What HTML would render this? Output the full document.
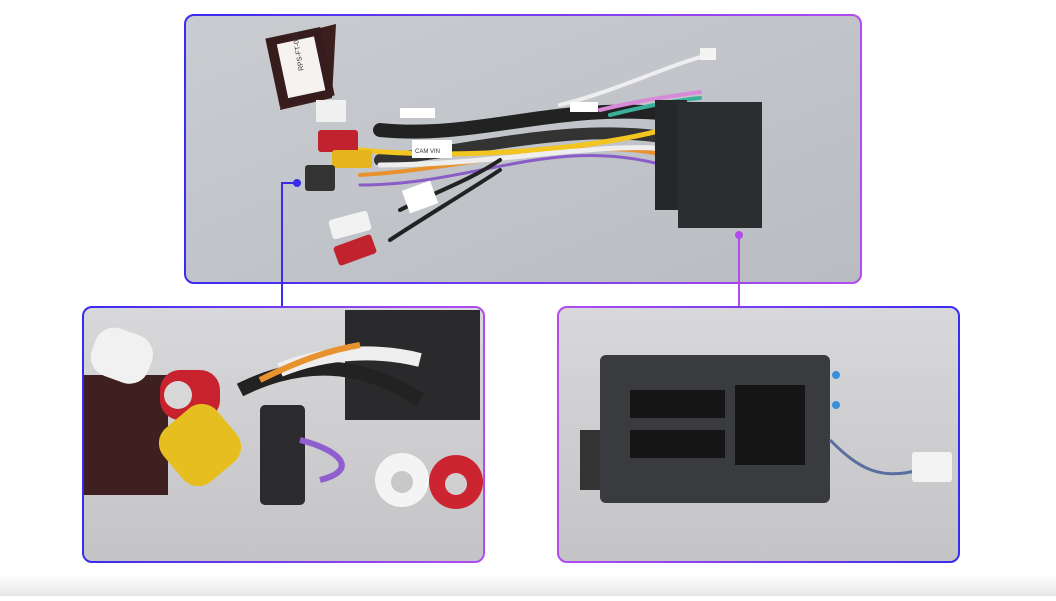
<!DOCTYPE html>
<html><head><meta charset="utf-8"><style>
body{margin:0;background:#fff;width:1056px;height:596px;overflow:hidden;font-family:"Liberation Sans",sans-serif}
</style></head><body>
<svg width="1056" height="596" viewBox="0 0 1056 596" xmlns="http://www.w3.org/2000/svg">
<defs>
<linearGradient id="bp" x1="0" x2="1" y1="0" y2="0"><stop offset="0" stop-color="#3a2bf0"/><stop offset="1" stop-color="#b24cf0"/></linearGradient>
<linearGradient id="pb" x1="0" x2="1" y1="0" y2="0"><stop offset="0" stop-color="#b24cf0"/><stop offset="1" stop-color="#3a2bf0"/></linearGradient>
<linearGradient id="bg1" x1="0" x2="1" y1="0" y2="1"><stop offset="0" stop-color="#c9ccd0"/><stop offset="1" stop-color="#b9bcc1"/></linearGradient>
<linearGradient id="bg2" x1="0" x2="0" y1="0" y2="1"><stop offset="0" stop-color="#d8d8da"/><stop offset="1" stop-color="#c4c4c6"/></linearGradient>
<linearGradient id="shade" x1="0" x2="0" y1="0" y2="1"><stop offset="0" stop-color="#fff"/><stop offset="1" stop-color="#e6e6e8"/></linearGradient>
</defs>
<rect x="0" y="575" width="1056" height="21" fill="url(#shade)"/>
<!-- top panel -->
<rect x="185" y="15" width="676" height="268" rx="9" fill="url(#bg1)" stroke="url(#bp)" stroke-width="2"/>
<!-- wires -->
<g fill="none" stroke-linecap="round">
<path d="M380 130 C480 140 560 100 680 115" stroke="#222" stroke-width="14"/>
<path d="M380 160 C480 150 580 120 680 140" stroke="#333" stroke-width="12"/>
<path d="M360 175 C460 170 600 130 680 160" stroke="#e8922f" stroke-width="4"/>
<path d="M360 150 C460 160 600 150 680 125" stroke="#f3c520" stroke-width="5"/>
<path d="M360 185 C480 185 560 130 680 170" stroke="#8a5cc8" stroke-width="3"/>
<path d="M380 165 C500 165 600 140 680 150" stroke="#eee" stroke-width="5"/>
<path d="M560 105 C620 90 680 60 710 55" stroke="#eee" stroke-width="4"/>
<path d="M600 110 C640 100 680 95 700 92" stroke="#d88ad8" stroke-width="4"/>
<path d="M610 115 C650 105 680 100 700 98" stroke="#3ab09a" stroke-width="4"/>
<path d="M400 210 C440 190 470 180 500 160" stroke="#222" stroke-width="4"/>
<path d="M390 240 C420 220 470 190 500 170" stroke="#222" stroke-width="4"/>
</g>
<rect x="700" y="48" width="16" height="12" fill="#f4f4f4"/>
<!-- module box -->
<path d="M288 36 L336 24 L332 98 L280 110 Z" fill="#3b1e1e"/>
<rect x="272" y="32" width="56" height="70" fill="#361c1c" transform="rotate(-12 300 67)"/>
<rect x="282" y="40" width="38" height="55" fill="#f5f2ef" transform="rotate(-12 300 67)"/>
<text x="296" y="70" font-size="7" fill="#333" transform="rotate(-100 300 67)">RPS-FT-002</text>
<!-- RCA plugs -->
<rect x="316" y="100" width="30" height="22" fill="#f0f0f0"/>
<rect x="318" y="130" width="40" height="22" rx="3" fill="#c0232e"/>
<rect x="332" y="150" width="40" height="18" rx="3" fill="#e4b51c"/>
<rect x="305" y="165" width="30" height="26" rx="3" fill="#333"/>
<rect x="330" y="215" width="40" height="20" rx="3" fill="#f2f2f2" transform="rotate(-15 350 225)"/>
<rect x="335" y="240" width="40" height="20" rx="3" fill="#c0232e" transform="rotate(-20 355 250)"/>
<!-- labels -->
<rect x="412" y="140" width="40" height="18" fill="#fff"/><text x="415" y="153" font-size="6" fill="#333">CAM VIN</text>
<rect x="405" y="185" width="30" height="24" fill="#fff" transform="rotate(-20 420 197)"/>
<rect x="400" y="108" width="35" height="10" fill="#fff"/>
<rect x="570" y="102" width="28" height="10" fill="#fff"/>
<!-- black connector -->
<rect x="655" y="100" width="32" height="110" fill="#262729"/>
<rect x="678" y="102" width="84" height="126" fill="#2c2d30"/>
<!-- connector lines -->
<path d="M297 183 H282 V306" stroke="#3a2bf0" stroke-width="2" fill="none"/>
<circle cx="297" cy="183" r="4" fill="#3a2bf0"/>
<path d="M739 235 V306" stroke="#b24cf0" stroke-width="2" fill="none"/>
<circle cx="739" cy="235" r="4" fill="#b24cf0"/>
<!-- bottom left panel -->
<clipPath id="c1"><rect x="83" y="307" width="401" height="255" rx="9"/></clipPath>
<g clip-path="url(#c1)">
<rect x="83" y="307" width="401" height="255" fill="url(#bg2)"/>
<rect x="345" y="310" width="135" height="110" fill="#2a2a2c"/>
<rect x="83" y="375" width="85" height="120" fill="#3e2020"/>
<path d="M240 390 C300 360 360 360 420 400" stroke="#222" stroke-width="14" fill="none"/>
<path d="M280 370 C330 350 380 350 420 360" stroke="#eee" stroke-width="14" fill="none"/>
<path d="M260 380 C300 360 330 350 360 345" stroke="#e8922f" stroke-width="6" fill="none"/>
<rect x="92" y="330" width="60" height="50" rx="20" fill="#f1f1f1" transform="rotate(20 120 355)"/>
<rect x="160" y="370" width="60" height="50" rx="20" fill="#c7222e"/>
<circle cx="178" cy="395" r="14" fill="#d8d8d8"/>
<rect x="165" y="410" width="70" height="70" rx="20" fill="#e7be1f" transform="rotate(-40 200 445)"/>
<rect x="260" y="405" width="45" height="100" rx="5" fill="#2b2b2d"/>
<path d="M300 440 C340 450 360 470 320 480" stroke="#8f5fd0" stroke-width="6" fill="none"/>
<circle cx="402" cy="480" r="27" fill="#f4f4f4"/>
<circle cx="402" cy="482" r="11" fill="#c8c8c8"/>
<circle cx="456" cy="482" r="27" fill="#cc2430"/>
<circle cx="456" cy="484" r="11" fill="#d0d0d0"/>
</g>
<rect x="83" y="307" width="401" height="255" rx="9" fill="none" stroke="url(#bp)" stroke-width="2"/>
<!-- bottom right panel -->
<clipPath id="c2"><rect x="558" y="307" width="401" height="255" rx="9"/></clipPath>
<g clip-path="url(#c2)">
<rect x="558" y="307" width="401" height="255" fill="url(#bg2)"/>
<rect x="580" y="430" width="30" height="60" fill="#333"/>
<rect x="600" y="355" width="230" height="148" rx="6" fill="#3a3b3e"/>
<g fill="#151515">
<rect x="630" y="390" width="95" height="28"/><rect x="630" y="430" width="95" height="28"/>
<rect x="735" y="385" width="70" height="80"/>
</g>
<path d="M830 440 C860 470 880 480 920 470" stroke="#5a6fa0" stroke-width="3" fill="none"/>
<rect x="912" y="452" width="40" height="30" rx="3" fill="#f3f3f3"/>
<circle cx="836" cy="375" r="4" fill="#3a8fdb"/><circle cx="836" cy="405" r="4" fill="#3a8fdb"/>
</g>
<rect x="558" y="307" width="401" height="255" rx="9" fill="none" stroke="url(#pb)" stroke-width="2"/>
</svg>
</body></html>
